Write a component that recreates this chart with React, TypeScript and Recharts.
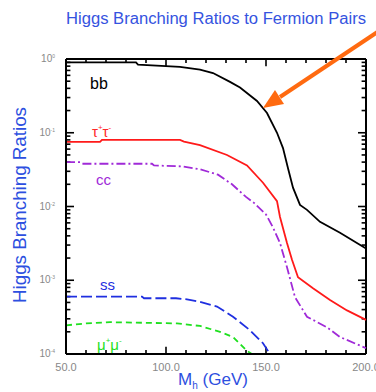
import React from 'react';
import { LineChart, Line, XAxis, YAxis, ReferenceLine } from 'recharts';

// Higgs mass (GeV) and branching ratio for each fermion pair
const bbMass = [50, 85, 86, 107, 117, 123.5, 132, 137, 145.5, 150.5, 155.5, 158.5, 161, 163.5, 167, 170.5, 177, 187, 200];
const bbValues = [0.9, 0.9, 0.84, 0.78, 0.72, 0.645, 0.49, 0.41, 0.27, 0.185, 0.1, 0.062, 0.033, 0.018, 0.0105, 0.009, 0.0062, 0.0044, 0.0027];

const tauMass = [50, 67, 68, 107, 109, 117, 130.5, 140.5, 148.5, 155.5, 157, 160.5, 163, 166, 173.5, 182, 190.5, 200];
const tauValues = [0.075, 0.075, 0.08, 0.08, 0.076, 0.068, 0.05, 0.036, 0.021, 0.0118, 0.0072, 0.0032, 0.0019, 0.0011, 0.00078, 0.00054, 0.00039, 0.00029];

const ccMass = [50, 57, 58, 93, 94, 108, 117, 126, 133, 140, 144, 150, 153.5, 157, 160.5, 164.5, 170.5, 180.5, 187, 200];
const ccValues = [0.04, 0.04, 0.038, 0.038, 0.036, 0.035, 0.032, 0.027, 0.02, 0.0135, 0.0112, 0.0078, 0.0052, 0.0032, 0.0015, 0.00059, 0.00032, 0.00023, 0.00017, 0.00012];

const ssMass = [50, 88, 89, 105, 110.5, 117, 125.5, 133.5, 142, 148.5, 152, 153];
const ssValues = [0.0006, 0.0006, 0.00057, 0.00057, 0.00055, 0.00051, 0.00044, 0.00032, 0.00021, 0.00014, 0.0001, 0.00008];

const muMass = [50, 60, 72, 105.5, 117, 127, 133.5, 140.5, 143, 144];
const muValues = [0.000245, 0.00026, 0.00027, 0.00026, 0.00024, 0.0002, 0.00017, 0.00011, 0.0001, 0.00008];

const xTicks = [50, 60, 70, 80, 90, 100, 110, 120, 130, 140, 150, 160, 170, 180, 190, 200];
const xMajor = [50, 100, 150, 200];
const decades = [0.0001, 0.001, 0.01, 0.1, 1];
const minorSteps = [2, 3, 4, 5, 6, 7, 8, 9];

const yTicks = decades.flatMap((d) => (d < 1 ? [d, ...minorSteps.map((m) => d * m)] : [d]));

const X_MIN = 50;
const X_MAX = 200;
const Y_MIN = 0.0001;
const Y_MAX = 1;

const toPoints = (mass: number[], values: number[]) => mass.map((m, i) => ({ m, v: values[i] }));

const series = [
  { key: 'bb', data: toPoints(bbMass, bbValues), color: '#000000', dash: undefined },
  { key: 'tautau', data: toPoints(tauMass, tauValues), color: '#ff1a1a', dash: undefined },
  { key: 'cc', data: toPoints(ccMass, ccValues), color: '#a02ad8', dash: '9 3 2 3' },
  { key: 'ss', data: toPoints(ssMass, ssValues), color: '#1f2fe0', dash: '11 4' },
  { key: 'mumu', data: toPoints(muMass, muValues), color: '#1fe01f', dash: '6 4' },
];

const isDecade = (v: number) => Math.abs(Math.log10(v) - Math.round(Math.log10(v))) < 1e-6;

// inner tick lengths, in axis units (GeV along x, multiplicative factor along the log y axis)
const yTickLen = (v: number) => (isDecade(v) ? 4 : 2.2);
const xTickFactor = (m: number) => (xMajor.includes(m) ? 1.25 : 1.13);

const LeftTick = (props: any) => {
  const { x, y, payload } = props;
  if (!isDecade(payload.value)) return <g />;
  const exp = Math.round(Math.log10(payload.value));
  return (
    <text x={x - 11} y={y + 3} textAnchor="end" fill="#888" fontSize={10} fontFamily="Liberation Sans">
      10<tspan dy={-4} fontSize={5}>{exp}</tspan>
    </text>
  );
};

const BottomTick = (props: any) => {
  const { x, y, payload } = props;
  if (!xMajor.includes(payload.value)) return <g />;
  return (
    <text x={x} y={y + 17} textAnchor="middle" fill="#888" fontSize={11} fontFamily="Liberation Sans">
      {payload.value.toFixed(1)}
    </text>
  );
};

const App: React.FC = () => {
  return (
    <div style={{ position: 'absolute', left: 0, top: 0, width: 376, height: 392, background: '#fff' }}>
      <LineChart width={376} height={392} margin={{ top: 59, right: 10, bottom: 8, left: 0 }}>
        <XAxis
          xAxisId="bottom"
          dataKey="m"
          type="number"
          domain={[X_MIN, X_MAX]}
          ticks={xTicks}
          interval={0}
          tickSize={0}
          tickMargin={0}
          tick={<BottomTick />}
          height={30}
          axisLine={{ stroke: '#000', strokeWidth: 2 }}
        />
        <YAxis
          yAxisId="left"
          scale="log"
          type="number"
          domain={[Y_MIN, Y_MAX]}
          allowDataOverflow
          ticks={yTicks}
          interval={0}
          tickSize={0}
          tickMargin={0}
          tick={<LeftTick />}
          width={66}
          axisLine={{ stroke: '#000', strokeWidth: 2 }}
        />
        <ReferenceLine xAxisId="bottom" yAxisId="left" y={Y_MAX} stroke="#000" strokeWidth={2} />
        <ReferenceLine xAxisId="bottom" yAxisId="left" x={X_MAX} stroke="#000" strokeWidth={2} />
        {yTicks.map((v) => (
          <ReferenceLine
            key={`l-${v}`}
            xAxisId="bottom"
            yAxisId="left"
            segment={[{ x: X_MIN, y: v }, { x: X_MIN + yTickLen(v), y: v }]}
            stroke="#000"
            strokeWidth={1.6}
          />
        ))}
        {yTicks.map((v) => (
          <ReferenceLine
            key={`r-${v}`}
            xAxisId="bottom"
            yAxisId="left"
            segment={[{ x: X_MAX - yTickLen(v), y: v }, { x: X_MAX, y: v }]}
            stroke="#000"
            strokeWidth={1.6}
          />
        ))}
        {xTicks.map((m) => (
          <ReferenceLine
            key={`b-${m}`}
            xAxisId="bottom"
            yAxisId="left"
            segment={[{ x: m, y: Y_MIN }, { x: m, y: Y_MIN * xTickFactor(m) }]}
            stroke="#000"
            strokeWidth={1.6}
          />
        ))}
        {xTicks.map((m) => (
          <ReferenceLine
            key={`t-${m}`}
            xAxisId="bottom"
            yAxisId="left"
            segment={[{ x: m, y: Y_MAX / xTickFactor(m) }, { x: m, y: Y_MAX }]}
            stroke="#000"
            strokeWidth={1.6}
          />
        ))}
        {series.map((s) => (
          <Line
            key={s.key}
            xAxisId="bottom"
            yAxisId="left"
            data={s.data}
            dataKey="v"
            type="linear"
            stroke={s.color}
            strokeWidth={1.8}
            strokeDasharray={s.dash}
            dot={false}
            isAnimationActive={false}
          />
        ))}
      </LineChart>
      <svg
        width={376}
        height={392}
        style={{ position: 'absolute', left: 0, top: 0, pointerEvents: 'none' }}
        fontFamily="Liberation Sans"
      >
        <text x={216} y={24} textAnchor="middle" fill="#3553e0" fontSize={16} textLength={300} lengthAdjust="spacingAndGlyphs">
          Higgs Branching Ratios to Fermion Pairs
        </text>
        <text
          x={26}
          y={205}
          textAnchor="middle"
          fill="#2d4fe0"
          fontSize={18}
          textLength={196}
          lengthAdjust="spacingAndGlyphs"
          transform="rotate(-90 26 205)"
        >
          Higgs Branching Ratios
        </text>
        <text x={213} y={385} textAnchor="middle" fill="#2d4fe0" fontSize={17}>
          M<tspan dy={4} fontSize={10}>h</tspan>
          <tspan dy={-4}> (GeV)</tspan>
        </text>
        <text x={90} y={89} fill="#000" fontSize={16}>bb</text>
        <text x={92} y={137} fill="#ff2a2a" fontSize={15}>
          τ<tspan dy={-7} fontSize={8}>+</tspan>
          <tspan dy={7}>τ</tspan>
          <tspan dy={-7} fontSize={8}>-</tspan>
        </text>
        <text x={96} y={185} fill="#a02ad8" fontSize={15}>cc</text>
        <text x={100} y={290} fill="#1f2fe0" fontSize={15}>ss</text>
        <text x={97} y={350} fill="#1fe01f" fontSize={15}>
          μ<tspan dy={-7} fontSize={8}>+</tspan>
          <tspan dy={7}>μ</tspan>
          <tspan dy={-7} fontSize={8}>-</tspan>
        </text>
        <line x1={382} y1={29} x2={280} y2={97} stroke="#ff6a10" strokeWidth={4} />
        <polygon points="263,108 284,104 275,90" fill="#ff6a10" />
      </svg>
    </div>
  );
};

export default App;
